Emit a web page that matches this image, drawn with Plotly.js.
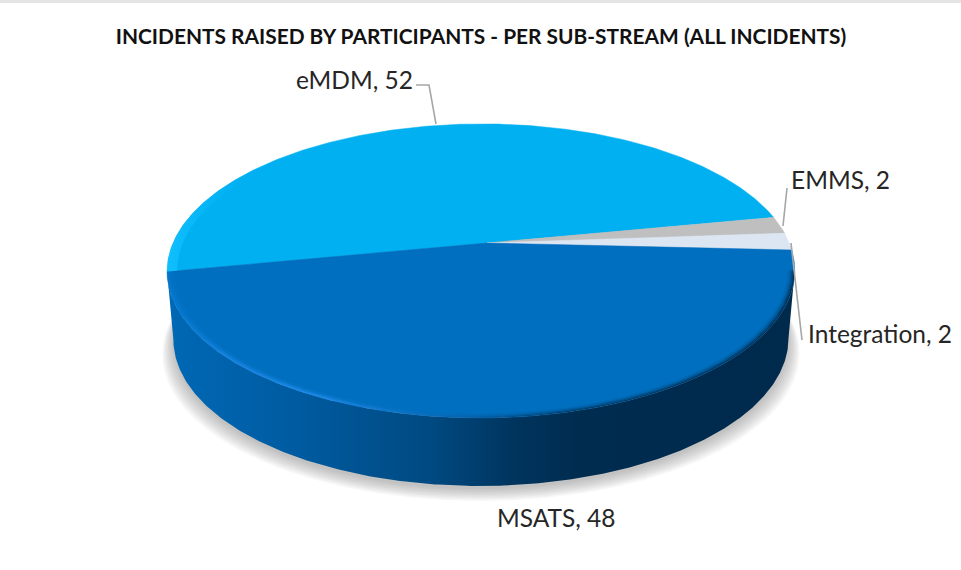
<!DOCTYPE html>
<html><head><meta charset="utf-8">
<script src="https://cdn.plot.ly/plotly-3.0.1.min.js"></script>
<style>html,body{margin:0;padding:0;background:#fff}#c{width:961px;height:570px}</style></head>
<body><div id="c"></div>
<script>
const categories = ['eMDM','EMMS','Integration','MSATS'];
const values = [52,2,2,48];
const sliceColors = ['#00B0F0','#BFBFBF','#DCE6F2','#006FC0'];
const chartTitle = 'INCIDENTS RAISED BY PARTICIPANTS - PER SUB-STREAM (ALL INCIDENTS)';

// perspective projection of the tilted disc onto the page
const START = 191, CX = 487, CY = 243, A = 308, B = 141.7, K = 0.19, M = 0.019, DEPTH = 68, WALL_SCALE = 0.98;
function proj(deg, r, lower) {
  const t = deg*Math.PI/180, u = r*Math.cos(t), v = r*Math.sin(t), w = 1 + K*v + M*u;
  let x = CX + A*u/w, y = CY - B*v/w;
  if (lower) { x = 481 + (x-481)*WALL_SCALE; y += DEPTH; }
  return [x,y];
}
function arc(a0,a1,r,lower){ const n=Math.max(2,Math.ceil(Math.abs(a1-a0))*2), p=[];
  for(let i=0;i<=n;i++) p.push(proj(a0+(a1-a0)*i/n,r,lower)); return p; }
function poly(pts,extra){ return Object.assign({type:'scatter',mode:'lines',x:pts.map(p=>p[0]),y:pts.map(p=>p[1]),
  fill:'toself',hoverinfo:'skip',showlegend:false,line:{width:0}},extra); }
function grad(stops){ return {fillgradient:{type:'horizontal',start:160,stop:800,colorscale:stops}}; }

const total = values.reduce((a,b)=>a+b,0);
const traces = [];
// soft drop shadow
for (let i=8;i>=0;i--) {
  const base = arc(0,360,1,true).map(p=>[481+(p[0]-481)*(1+i*0.0045), p[1]+3+i*1.5]);
  traces.push(poly(base,{fillcolor:'rgba(110,110,110,0.055)'}));
}
// side wall
const wallTop = arc(START,349,1,false), wallBot = arc(349,START,1,true);
traces.push(poly(wallTop.concat(wallBot),grad([[0,'#0069B6'],[0.2,'#005CA2'],[0.42,'#004A82'],[0.55,'#00355F'],[0.65,'#002C50'],[1,'#002A4C']])));
// top face slices, clockwise from the start angle
let ang = START;
values.forEach((val,i)=>{
  const sweep = val/total*360, end = ang - sweep;
  const pts = [proj(0,0,false)].concat(arc(ang,end,1,false));
  pts.push(proj(0,0,false));
  traces.push(poly(pts,{name:categories[i],fillcolor:sliceColors[i],line:{width:0.5,color:sliceColors[i]}}));
  ang = end;
});
// bevel on rim, built from thin translucent rings so it reads as a soft edge
function band(a0,a1,r0,r1,stops){ traces.push(poly(arc(a0,a1,r1,false).concat(arc(a1,a0,r0,false)),grad(stops))); }
function rim(alpha){ return [
  [0,`rgba(0,120,205,${alpha*0.85})`],[0.1,`rgba(25,135,230,${alpha})`],[0.26,`rgba(35,145,240,${alpha})`],
  [0.45,`rgba(10,100,175,${alpha*0.8})`],[0.62,`rgba(0,50,90,${alpha*0.9})`],[1,`rgba(0,42,76,${alpha})`]]; }
band(START,349,0.978,0.985,rim(0.12));
band(START,349,0.985,0.990,rim(0.3));
band(START,349,0.990,0.995,rim(0.6));
band(START,349,0.995,1,rim(0.9));
band(START,140,0.97,1,[[0,'rgba(20,195,255,0.9)'],[0.08,'rgba(10,185,250,0.5)'],[0.16,'rgba(0,176,240,0)'],[1,'rgba(0,176,240,0)']]);

const LEADER = '#A6A6A6';
const leaders = [
  'M416,85 L429,85 L436,124',
  'M787,188 L783,226',
  'M791,243 L802,340'
].map(path=>({type:'path',path,xref:'x',yref:'y',line:{color:LEADER,width:1.6},layer:'above'}));

const labelPos = {eMDM:[354,79],EMMS:[840,179],Integration:[880,333],MSATS:[556,517]};
const annotations = categories.map((c,i)=>({
  text:c+', '+values[i], x:labelPos[c][0], y:labelPos[c][1], xref:'x', yref:'y',
  showarrow:false, xanchor:'center', yanchor:'middle',
  font:{family:'Lato, Carlito, sans-serif',size:24.5,color:'#262626'}
}));

Plotly.newPlot('c',traces,{
  width:961,height:570,margin:{l:0,r:0,t:0,b:0},
  paper_bgcolor:'#fff',plot_bgcolor:'#fff',showlegend:false,
  title:{text:'<b>'+chartTitle+'</b>',x:481/961,xanchor:'center',y:1-37/570,yanchor:'middle',
    font:{family:'Lato, Carlito, sans-serif',size:20.9,color:'#111'}},
  xaxis:{range:[0,961],visible:false,fixedrange:true},
  yaxis:{range:[570,0],visible:false,fixedrange:true},
  shapes:leaders.concat([{type:'rect',xref:'paper',yref:'paper',x0:0,x1:1,y0:1-3/570,y1:1,fillcolor:'#E4E4E4',line:{width:0},layer:'above'}]),
  annotations
},{displayModeBar:false,staticPlot:true});
</script></body></html>
